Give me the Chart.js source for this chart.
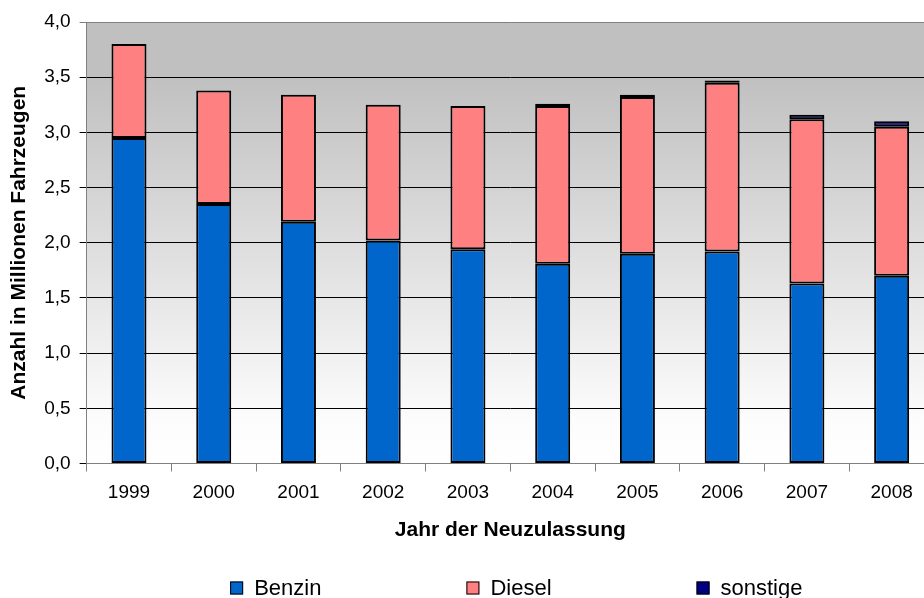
<!DOCTYPE html>
<html>
<head>
<meta charset="utf-8">
<script src="https://cdn.jsdelivr.net/npm/chart.js@4.4.1/dist/chart.umd.min.js"></script>
<style>
  html, body { margin: 0; padding: 0; background: #fff; overflow: hidden; }
  #wrap { width: 940px; height: 598px; position: relative; }
</style>
</head>
<body>
<div id="wrap"><canvas id="chartNeuzulassung"></canvas></div>
<script>
// Neuzulassungen nach Kraftstoff (Mio. Fahrzeuge)
const jahre = ['1999', '2000', '2001', '2002', '2003', '2004', '2005', '2006', '2007', '2008'];
const benzin = [2.95, 2.35, 2.19, 2.02, 1.94, 1.81, 1.90, 1.92, 1.63, 1.70];
const diesel = [0.85, 1.03, 1.15, 1.23, 1.30, 1.43, 1.42, 1.53, 1.49, 1.35];
const sonstige = [0, 0, 0, 0, 0, 0.02, 0.02, 0.02, 0.04, 0.05];
const yTicks = [0, 0.5, 1.0, 1.5, 2.0, 2.5, 3.0, 3.5, 4.0];

const fontFamily = '"Liberation Sans", Arial, sans-serif';

// grauer Verlauf im Diagrammbereich
const plotBackground = {
  id: 'plotBackground',
  beforeDraw(chart) {
    const { ctx, chartArea } = chart;
    const g = ctx.createLinearGradient(0, chartArea.top, 0, chartArea.bottom);
    g.addColorStop(0, '#c0c0c0');
    g.addColorStop(0.12, '#c0c0c0');
    g.addColorStop(0.9, '#fcfcfc');
    g.addColorStop(1, '#ffffff');
    ctx.save();
    ctx.fillStyle = g;
    ctx.fillRect(chartArea.left, chartArea.top, chartArea.right - chartArea.left, chartArea.bottom - chartArea.top);
    ctx.restore();
  }
};

// Legende unten mit weitem Abstand
const wideLegend = {
  id: 'wideLegend',
  afterDraw(chart) {
    const { ctx, chartArea } = chart;
    const box = 13, gap = 145;
    ctx.save();
    ctx.font = '22px ' + fontFamily;
    ctx.textBaseline = 'middle';
    const items = chart.data.datasets.map(ds => ({
      text: ds.label,
      color: ds.backgroundColor,
      w: box + 11 + ctx.measureText(ds.label).width
    }));
    const total = items.reduce((s, it) => s + it.w, 0) + gap * (items.length - 1);
    let x = (chartArea.left + chartArea.right) / 2 + 6 - total / 2;
    const y = 588;
    items.forEach(it => {
      ctx.fillStyle = it.color;
      ctx.fillRect(x, y - box / 2, box, box);
      ctx.strokeStyle = '#000';
      ctx.lineWidth = 1;
      ctx.strokeRect(x + 0.5, y - box / 2 + 0.5, box - 1, box - 1);
      ctx.fillStyle = '#000';
      ctx.fillText(it.text, x + box + 11, y + 1);
      x += it.w + gap;
    });
    ctx.restore();
  }
};

const data = {
  labels: jahre,
  datasets: [
    { label: 'Benzin', data: benzin, backgroundColor: '#0066cc' },
    { label: 'Diesel', data: diesel, backgroundColor: '#ff8080' },
    { label: 'sonstige', data: sonstige, backgroundColor: '#000080' }
  ].map(ds => Object.assign(ds, {
    borderColor: '#000',
    borderWidth: 2,
    borderSkipped: false,
    barPercentage: 0.413,
    categoryPercentage: 1
  }))
};

const config = {
  type: 'bar',
  data: data,
  plugins: [plotBackground, wideLegend],
  options: {
    responsive: true,
    maintainAspectRatio: false,
    animation: false,
    layout: { padding: { top: 22, right: 6, bottom: 55.5, left: 0 } },
    plugins: {
      legend: { display: false },
      tooltip: { enabled: false }
    },
    scales: {
      x: {
        stacked: true,
        grid: {
          offset: true,
          drawOnChartArea: false,
          drawTicks: true,
          tickLength: 8,
          color: '#808080'
        },
        border: { color: '#808080', width: 1 },
        ticks: {
          color: '#000',
          padding: 10,
          maxRotation: 0,
          font: { family: fontFamily, size: 19 }
        },
        title: {
          display: true,
          text: 'Jahr der Neuzulassung',
          color: '#000',
          font: { family: fontFamily, size: 21, weight: 'bold' },
          padding: { top: 3, bottom: 0 }
        }
      },
      y: {
        stacked: true,
        min: 0,
        max: 4,
        afterBuildTicks(scale) {
          scale.ticks = yTicks.map(v => ({ value: v }));
        },
        grid: {
          color: ctx => (ctx.tick && ctx.tick.value === 4) ? '#808080' : '#000',
          lineWidth: 1,
          tickLength: 7
        },
        border: { color: '#808080', width: 1 },
        ticks: {
          color: '#000',
          padding: 9,
          font: { family: fontFamily, size: 19 },
          callback: v => Number(v).toFixed(1).replace('.', ',')
        },
        title: {
          display: true,
          text: 'Anzahl in Millionen Fahrzeugen',
          color: '#000',
          font: { family: fontFamily, size: 21, weight: 'bold' },
          padding: { top: 7, bottom: 3 }
        }
      }
    }
  }
};

const node = document.getElementById('chartNeuzulassung');
const chartNeuzulassung = new Chart(node, config);
</script>
</body>
</html>
